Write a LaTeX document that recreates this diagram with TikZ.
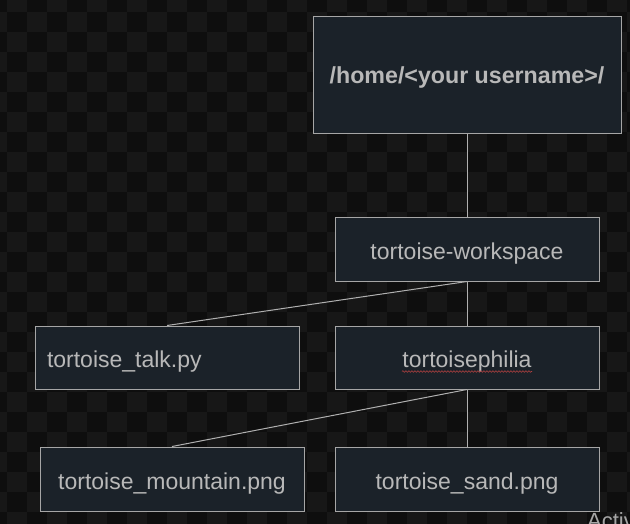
\documentclass[tikz,border=0pt]{standalone}
\usepackage{fontspec}
\setmainfont{Liberation Sans}
\usetikzlibrary{decorations.pathmorphing}
\definecolor{bgdark}{HTML}{0E0E0E}
\definecolor{bglight}{HTML}{171717}
\definecolor{boxfill}{HTML}{1B2229}
\definecolor{boxline}{HTML}{A6A6A6}
\definecolor{txt}{HTML}{B8B8B8}
\definecolor{conn}{HTML}{B0B0B0}
\definecolor{squig}{HTML}{B04040}
\tikzset{
  fbox/.style={draw=boxline, fill=boxfill, line width=1pt, rectangle, text=txt,
    font=\fontsize{23}{28}\selectfont, inner sep=0pt, anchor=center,
    text height=20pt, text depth=0pt},
  conline/.style={draw=conn, line width=1pt},
}
\begin{document}
\begin{tikzpicture}[x=1pt,y=-1pt]
\useasboundingbox (0,0) rectangle (630,523);
\fill[bgdark] (-10,-10) rectangle (640,533);
\foreach \i in {0,...,33}{
  \foreach \j in {0,...,27}{
    \pgfmathtruncatemacro{\cpar}{mod(\i+\j,2)}
    \ifnum\cpar=1
      \fill[bglight] (-13+20*\i,-8+20*\j) rectangle ++(20,20);
    \fi
  }
}
\node[fbox, minimum width=308pt, minimum height=117pt, text height=18pt, font=\fontsize{23.2}{28}\selectfont\bfseries] (home) at (467,74.5) {/home/<your username>/};
\node[fbox, minimum width=264pt, minimum height=64pt] (ws) at (467,249) {tortoise-workspace};
\node[fbox, minimum width=264pt, minimum height=63pt, text width=240pt, align=left, inner xsep=12pt] (talk) at (167,357.5) {tortoise\_talk.py};
\node[fbox, minimum width=264pt, minimum height=63pt] (phil) at (467,357.5) {tortoisephilia};
\node[fbox, minimum width=264pt, minimum height=64pt] (mtn) at (172,479) {tortoise\_mountain.png};
\node[fbox, minimum width=264pt, minimum height=64pt] (sand) at (467,479) {tortoise\_sand.png};
\draw[conline] (home.south) -- (ws.north);
\draw[conline] (ws.south) -- (talk.north);
\draw[conline] (ws.south) -- (phil.north);
\draw[conline] (phil.south) -- (mtn.north);
\draw[conline] (phil.south) -- (sand.north);
\draw[squig, line width=0.6pt, decorate, decoration={snake, amplitude=0.8pt, segment length=3pt}] (402,371.5) -- (532,371.5);
\node[anchor=base west, inner sep=0pt, text=boxline, font=\fontsize{22}{26}\selectfont] (act) at (587,528) {Activ};
\end{tikzpicture}
\end{document}
